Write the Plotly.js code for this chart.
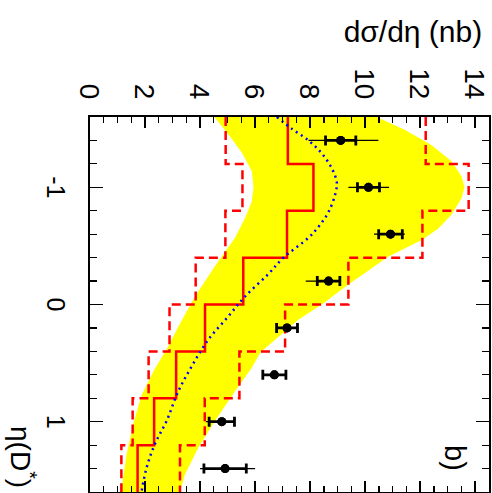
<!DOCTYPE html>
<html>
<head>
<meta charset="utf-8">
<script src="https://cdn.plot.ly/plotly-3.0.1.min.js"></script>
<style>
html,body{margin:0;padding:0;background:#fff;overflow:hidden;width:492px;height:493px;}
#plot{position:absolute;left:0;top:0;width:493px;height:492px;transform-origin:0 0;transform:translate(492px,0) rotate(90deg);}
</style>
</head>
<body>
<div id="plot"></div>
<script>
// ---- data (original orientation: x = eta(D*), y = dsigma/deta in nb) ----
const etaEdges   = [-1.6, -1.2, -0.8, -0.4, 0.0, 0.4, 0.8, 1.2, 1.6];
const etaCenters = [-1.4, -1.0, -0.6, -0.2, 0.2, 0.6, 1.0, 1.4];

const dataVals   = [9.11, 10.12, 10.92, 8.67, 7.16, 6.70, 4.79, 4.91];
const statErr    = [0.55, 0.40, 0.43, 0.41, 0.38, 0.42, 0.46, 0.77];
const totErrPlus = [1.37, 0.75, 0.52, 0.41, 0.38, 0.42, 0.48, 1.09];
const totErrMinus= [1.17, 0.73, 0.60, 0.83, 0.38, 0.42, 0.58, 0.91];

const histCentral = [7.19, 8.12, 7.16, 5.57, 4.18, 3.13, 2.33, 1.73];
const histLower   = [4.93, 5.54, 4.92, 3.84, 2.89, 2.13, 1.55, 1.14];
const histUpper   = [12.20, 13.76, 12.08, 9.39, 7.09, 5.43, 4.17, 3.27];

const curveEta = [-1.6, -1.5, -1.4, -1.29, -1.16, -1.04, -0.94, -0.79, -0.68, -0.57, -0.4, -0.26, -0.07, 0.1, 0.3, 0.53, 0.74, 0.99, 1.19, 1.39, 1.6];
const curveVal = [6.79, 7.33, 7.94, 8.42, 8.79, 8.97, 8.91, 8.67, 8.36, 7.94, 7.03, 6.48, 5.64, 5.03, 4.30, 3.69, 3.21, 2.79, 2.36, 2.06, 1.87];

const bandHiEta = [-1.6, -1.49, -1.36, -1.22, -1.09, -1.0, -0.91, -0.77, -0.65, -0.55, -0.41, -0.27, -0.17, 0.0, 0.13, 0.41, 0.54, 0.74, 0.99, 1.22, 1.45, 1.6];
const bandHi    = [10.42, 11.45, 12.42, 13.15, 13.51, 13.61, 13.51, 13.15, 12.67, 12.06, 10.85, 10.0, 9.39, 8.42, 7.57, 6.19, 5.88, 5.27, 4.55, 3.94, 3.45, 3.27];
const bandLoEta = [-1.6, -1.45, -1.3, -1.14, -1.0, -0.88, -0.74, -0.57, -0.33, -0.07, 0.19, 0.38, 0.55, 0.77, 1.02, 1.28, 1.6];
const bandLo    = [4.52, 5.03, 5.51, 5.88, 5.94, 5.88, 5.64, 5.27, 4.55, 3.82, 3.21, 2.79, 2.35, 1.88, 1.57, 1.33, 1.13];

const xTickVals = [-1, 0, 1];
const xTickText = ['-1', '0', '1'];
const yTickVals = [0, 2, 4, 6, 8, 10, 12, 14];
const yTickText = ['0', '2', '4', '6', '8', '10', '12', '14'];

const FONT = 'Liberation Sans, Arial, Helvetica, sans-serif';
const step = v => v.concat([v[v.length - 1]]);

const traces = [
  {
    x: bandHiEta.concat(bandLoEta.slice().reverse()),
    y: bandHi.concat(bandLo.slice().reverse()),
    mode: 'lines', fill: 'toself', fillcolor: '#ffff00',
    line: {width: 0, color: '#ffff00'}, hoverinfo: 'skip'
  },
  {
    x: etaEdges, y: step(histLower), mode: 'lines',
    line: {shape: 'hv', color: '#ff0000', width: 2.5, dash: '9px,5px'}
  },
  {
    x: etaEdges, y: step(histUpper), mode: 'lines',
    line: {shape: 'hv', color: '#ff0000', width: 2.5, dash: '9px,5px'}
  },
  {
    x: etaEdges, y: step(histCentral), mode: 'lines',
    line: {shape: 'hv', color: '#ff0000', width: 2.5}
  },
  {
    x: curveEta, y: curveVal, mode: 'lines',
    line: {shape: 'spline', color: '#0000ff', width: 2.5, dash: '2px,4px'}
  },
  {
    x: etaCenters, y: dataVals, mode: 'markers',
    marker: {size: 9, color: '#000'},
    error_y: {type: 'data', symmetric: false, array: totErrPlus, arrayminus: totErrMinus,
              color: '#000', thickness: 1.2, width: 0}
  },
  {
    x: etaCenters, y: dataVals, mode: 'markers',
    marker: {size: 9, color: '#000'},
    error_y: {type: 'data', array: statErr, color: '#000', thickness: 2.8, width: 5}
  }
];

const layout = {
  width: 493, height: 492,
  margin: {l: 117, r: 1, t: 3, b: 90, pad: 0},
  paper_bgcolor: '#fff', plot_bgcolor: '#fff',
  showlegend: false,
  font: {family: FONT, color: '#000'},
  xaxis: {
    range: [-1.6, 1.6], tickvals: xTickVals, ticktext: xTickText,
    ticks: 'inside', ticklen: 13, tickwidth: 1.5, tickcolor: '#000',
    minor: {dtick: 0.2, ticks: 'inside', ticklen: 7, tickwidth: 1.2, tickcolor: '#000'},
    showline: true, mirror: 'ticks', linecolor: '#000', linewidth: 2,
    showgrid: false, zeroline: false,
    tickfont: {size: 25, family: FONT, color: '#000'},
    ticklabelstandoff: 11
  },
  yaxis: {
    range: [0, 14.5], tickvals: yTickVals, ticktext: yTickText,
    ticks: 'inside', ticklen: 11, tickwidth: 1.5, tickcolor: '#000',
    minor: {dtick: 0.5, ticks: 'inside', ticklen: 6, tickwidth: 1.2, tickcolor: '#000'},
    showline: true, mirror: 'ticks', linecolor: '#000', linewidth: 2,
    showgrid: false, zeroline: false,
    tickfont: {size: 28, family: FONT, color: '#000'},
    ticklabelstandoff: 10
  },
  annotations: [
    {text: 'dσ/dη (nb)', xref: 'paper', yref: 'paper', x: -0.227, y: 0.99,
     xanchor: 'center', yanchor: 'top', textangle: -90, showarrow: false,
     font: {size: 30, family: FONT, color: '#000'}},
    {text: 'η(D<sup>*</sup>)', xref: 'paper', yref: 'paper', x: 0.995, y: -0.168,
     xanchor: 'right', yanchor: 'middle', showarrow: false,
     font: {size: 28, family: FONT, color: '#000'}},
    {text: 'b)', xref: 'paper', yref: 'paper', x: 0.949, y: 0.915,
     xanchor: 'right', yanchor: 'middle', showarrow: false,
     font: {size: 29, family: FONT, color: '#000'}}
  ]
};

Plotly.newPlot('plot', traces, layout, {staticPlot: true, displayModeBar: false});
</script>
</body>
</html>
